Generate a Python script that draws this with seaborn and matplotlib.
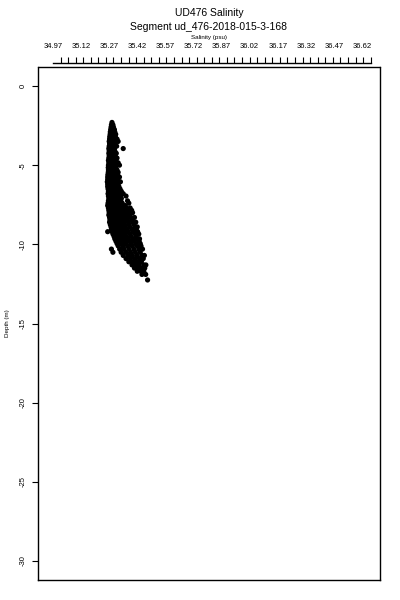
import seaborn as sns
import pandas as pd
import numpy as np
import matplotlib.pyplot as plt

# depth (m) rows and the salinity (psu) readings seen at each row
depth_rows = [-2.3, -2.45, -2.6, -2.75, -2.9, -3.05, -3.2, -3.35, -3.5, -3.65,
              -3.8, -3.95, -4.1, -4.25, -4.4, -4.55, -4.7, -4.85, -5.0, -5.15,
              -5.3, -5.45, -5.6, -5.75, -5.9, -6.05, -6.2, -6.35, -6.5, -6.65,
              -6.8, -6.95, -7.1, -7.25, -7.4, -7.55, -7.7, -7.85, -8.0, -8.15,
              -8.3, -8.45, -8.6, -8.75, -8.9, -9.05, -9.2, -9.35, -9.5, -9.65,
              -9.8, -9.95, -10.1, -10.3, -10.5, -10.7, -10.9, -11.1, -11.3, -11.5,
              -11.7, -11.9, -12.25]
salinity_rows = [
    [35.285],
    [35.282, 35.290],
    [35.280, 35.293],
    [35.278, 35.290, 35.298],
    [35.276, 35.288, 35.300],
    [35.275, 35.285, 35.296, 35.305],
    [35.273, 35.283, 35.293, 35.303],
    [35.272, 35.282, 35.292, 35.302, 35.312],
    [35.270, 35.280, 35.290, 35.300, 35.318],
    [35.272, 35.282, 35.292, 35.302],
    [35.270, 35.280, 35.290, 35.300, 35.310],
    [35.268, 35.278, 35.288, 35.298, 35.345],
    [35.270, 35.280, 35.290, 35.300],
    [35.268, 35.278, 35.288, 35.298, 35.308],
    [35.270, 35.280, 35.292, 35.302],
    [35.268, 35.278, 35.288, 35.298, 35.312],
    [35.266, 35.276, 35.286, 35.296, 35.306],
    [35.268, 35.280, 35.290, 35.300, 35.318],
    [35.266, 35.276, 35.286, 35.296, 35.306, 35.325],
    [35.265, 35.275, 35.285, 35.295, 35.305],
    [35.266, 35.276, 35.288, 35.300, 35.312],
    [35.265, 35.275, 35.285, 35.295, 35.305, 35.318],
    [35.263, 35.273, 35.283, 35.293, 35.303, 35.315],
    [35.262, 35.272, 35.282, 35.292, 35.302, 35.312, 35.325],
    [35.262, 35.272, 35.282, 35.292, 35.302, 35.315],
    [35.260, 35.270, 35.280, 35.290, 35.300, 35.312, 35.330],
    [35.262, 35.272, 35.282, 35.292, 35.304, 35.318],
    [35.262, 35.274, 35.286, 35.298, 35.310, 35.322],
    [35.264, 35.276, 35.288, 35.300, 35.312, 35.328],
    [35.266, 35.278, 35.290, 35.302, 35.314, 35.335],
    [35.264, 35.276, 35.288, 35.300, 35.312, 35.326, 35.345],
    [35.266, 35.278, 35.290, 35.302, 35.316, 35.330, 35.360],
    [35.268, 35.280, 35.292, 35.304, 35.318, 35.335],
    [35.266, 35.278, 35.290, 35.302, 35.316, 35.332, 35.368],
    [35.264, 35.276, 35.290, 35.304, 35.320, 35.340, 35.375],
    [35.262, 35.274, 35.288, 35.302, 35.318, 35.336, 35.356],
    [35.266, 35.278, 35.292, 35.306, 35.322, 35.342, 35.362, 35.382],
    [35.268, 35.282, 35.296, 35.312, 35.330, 35.350, 35.372, 35.390],
    [35.270, 35.284, 35.298, 35.314, 35.332, 35.352, 35.372, 35.395],
    [35.268, 35.282, 35.298, 35.316, 35.336, 35.358, 35.380],
    [35.272, 35.286, 35.302, 35.320, 35.340, 35.362, 35.386, 35.405],
    [35.274, 35.290, 35.306, 35.324, 35.344, 35.366, 35.390],
    [35.272, 35.288, 35.306, 35.326, 35.348, 35.372, 35.396, 35.412],
    [35.276, 35.292, 35.310, 35.330, 35.352, 35.376, 35.402],
    [35.280, 35.296, 35.314, 35.334, 35.356, 35.380, 35.408, 35.420],
    [35.282, 35.300, 35.320, 35.342, 35.366, 35.392, 35.415],
    [35.262, 35.286, 35.306, 35.326, 35.348, 35.372, 35.398, 35.422],
    [35.290, 35.310, 35.332, 35.356, 35.382, 35.410, 35.428],
    [35.296, 35.316, 35.338, 35.362, 35.388, 35.414],
    [35.300, 35.322, 35.346, 35.370, 35.396, 35.420, 35.432],
    [35.306, 35.328, 35.352, 35.378, 35.404, 35.430],
    [35.312, 35.336, 35.360, 35.386, 35.412, 35.436],
    [35.318, 35.342, 35.368, 35.394, 35.420, 35.440],
    [35.282, 35.326, 35.350, 35.376, 35.402, 35.428, 35.448],
    [35.290, 35.334, 35.358, 35.384, 35.410, 35.436],
    [35.345, 35.370, 35.394, 35.420, 35.446, 35.458],
    [35.360, 35.384, 35.408, 35.432, 35.452],
    [35.375, 35.398, 35.420, 35.442],
    [35.392, 35.412, 35.430, 35.455, 35.466],
    [35.405, 35.425, 35.445, 35.460],
    [35.420, 35.440, 35.455],
    [35.445, 35.465],
    [35.475],
]

sal_labels = ['34.97', '35.12', '35.27', '35.42', '35.57', '35.72',
              '35.87', '36.02', '36.17', '36.32', '36.47', '36.62']
depth_ticks = [0, -5, -10, -15, -20, -25, -30]

depth = [d for d, row in zip(depth_rows, salinity_rows) for _ in row]
salinity = [s for row in salinity_rows for s in row]
df = pd.DataFrame({'salinity': salinity, 'depth': depth})

sns.set_style('white')
plt.rcParams['font.family'] = ['Liberation Sans', 'DejaVu Sans']
plt.rcParams['text.color'] = 'black'
plt.rcParams['axes.labelcolor'] = 'black'
plt.rcParams['xtick.color'] = 'black'
plt.rcParams['ytick.color'] = 'black'
plt.rcParams['axes.unicode_minus'] = False

fig = plt.figure(figsize=(4, 6), dpi=100)
ax = fig.add_axes([0.095, 0.0333, 0.855, 0.855])
sns.scatterplot(data=df, x='salinity', y='depth', color='black', s=14,
                edgecolor='none', ax=ax, legend=False)

ax.set_xlim(34.89, 36.716)
ax.set_ylim(-31.2, 1.2)

# top axis: labels every 0.15 psu, small ticks on a separate line above the box
ax.xaxis.set_ticks_position('top')
ax.xaxis.set_label_position('top')
ax.set_xticks([float(v) for v in sal_labels], sal_labels)
ax.set_xticks(np.linspace(34.97, 36.666, 43), minor=True)
ax.tick_params(axis='x', which='major', length=0, pad=9, labelsize=5.5)
ax.tick_params(axis='x', which='minor', length=4, width=0.8, direction='out')
ax.spines['top'].set_position(('outward', 3))
ax.spines['top'].set_bounds(34.97, 36.666)
ax.axhline(1.2, color='black', lw=1, clip_on=False)

ax.set_yticks(depth_ticks, [str(v) for v in depth_ticks])
ax.tick_params(axis='y', length=4, width=0.8, direction='out', pad=4,
               labelsize=5.5, left=True)
for lab in ax.get_yticklabels():
    lab.set_rotation(90)
    lab.set_va('center')

for sp in ['left', 'right', 'bottom', 'top']:
    ax.spines[sp].set_color('black')
    ax.spines[sp].set_linewidth(1)

ax.set_xlabel('Salinity (psu)', fontsize=4.5, labelpad=3)
ax.set_ylabel('Depth (m)', fontsize=4.5)
ax.yaxis.set_label_coords(-0.083, 0.5)

fig.text(0.5225, 0.978, 'UD476 Salinity', ha='center', va='center', fontsize=7.5)
fig.text(0.5225, 0.955, 'Segment ud_476-2018-015-3-168', ha='center',
         va='center', fontsize=7.5)

fig.savefig('out.png', dpi=100)
